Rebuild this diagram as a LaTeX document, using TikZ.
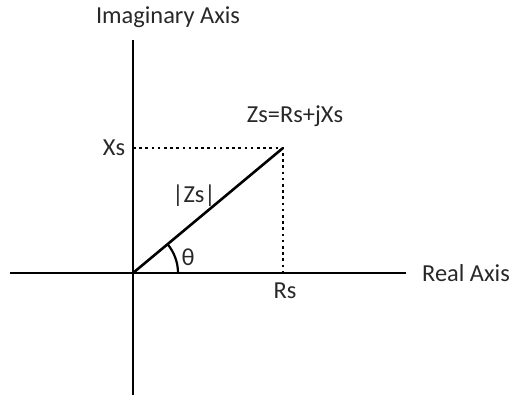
\documentclass[tikz,border=0pt]{standalone}
\usepackage{fontspec}
\setmainfont{Carlito}
\usepackage{tikz}
\usetikzlibrary{positioning,calc}
\definecolor{labelgray}{RGB}{40,40,40}

\begin{document}
\begin{tikzpicture}[
    x=1bp,y=-1bp,
    axis/.style={draw,line width=2.6bp},
    phasor/.style={draw,line width=2.6bp},
    guide/.style={draw,line width=2.8bp,dash pattern=on 2.6bp off 3.6bp},
    lbl/.style={font=\fontsize{24.5}{28}\selectfont,text=labelgray,inner sep=0pt}
  ]
    \useasboundingbox (0,0) rectangle (520,397);
    \coordinate (origin) at (133,273);
    \coordinate (top) at (133,40);
    \coordinate (bottom) at (133,395);
    \coordinate (left) at (10,273);
    \coordinate (right) at (406,273);
    \coordinate (zs) at (283,148);
    \coordinate (xs) at (133,148);
    \coordinate (rs) at (283,273);
    % axes
    \draw[axis] (left) -- (right);
    \draw[axis] (top) -- (bottom);
    % projections
    \draw[guide] (xs) -- (zs) -- (rs);
    \draw[phasor] (origin) -- (zs);
    \draw[line width=2.2bp] ($(origin)+(45,0)$) arc[start angle=0,end angle=-39.6,radius=45];
    \node[lbl] (imag) at (168,17) {Imaginary Axis};
    \node[lbl] (real) at (466,273) {Real Axis};
    \node[lbl] (xslbl) at (114,148) {Xs};
    \node[lbl] (rslbl) at (285,291) {Rs};
    \node[lbl] (zslbl) at (295,116) {Zs=Rs+jXs};
    \node[lbl] (maglbl) at (194,196) {|Zs|};
    \node[lbl] (theta) at (188,257) {θ};
  \end{tikzpicture}
\end{document}
